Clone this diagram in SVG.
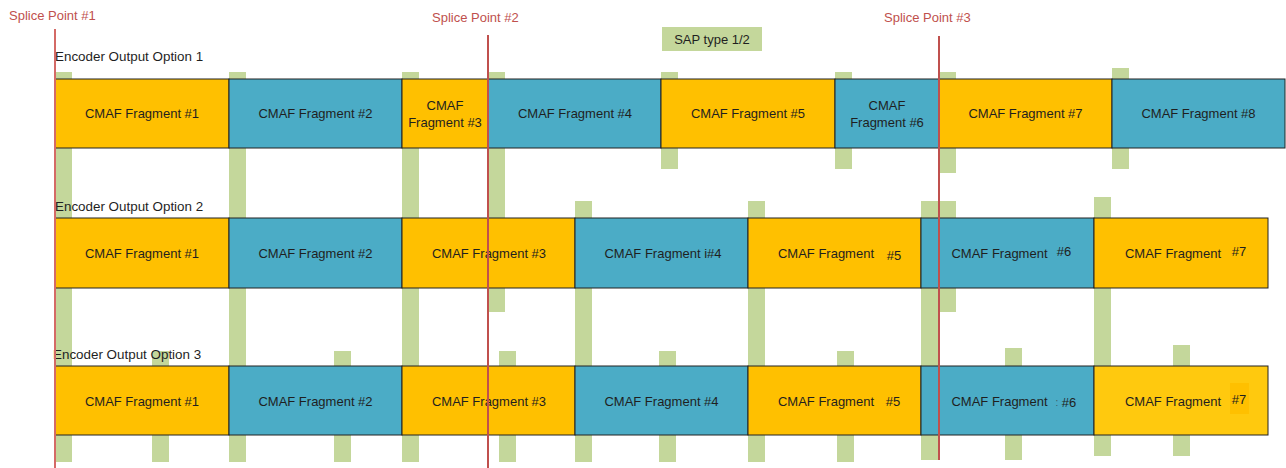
<svg xmlns="http://www.w3.org/2000/svg" width="1286" height="468" viewBox="0 0 1286 468">
<style>
text{font-family:"Liberation Sans",Arial,sans-serif;fill:#1f1f1f}
.t{font-size:13px;text-anchor:middle}
.l{font-size:13.4px}
.sp{font-size:13px;fill:#c0504d}
.bar{fill:#c4d79b}
.o{fill:#ffc000;stroke:#222;stroke-width:1}
.b{fill:#4bacc6;stroke:#222;stroke-width:1}
.splice{stroke:#c0504d;stroke-width:2}
</style>
<rect width="1286" height="468" fill="#fff"/>
<g id="sap-bars">
<rect class="bar" x="55" y="72" width="17" height="390"/>
<rect class="bar" x="229" y="72" width="17" height="390"/>
<rect class="bar" x="402" y="72" width="17" height="390"/>
<rect class="bar" x="488" y="72" width="17" height="240"/>
<rect class="bar" x="661" y="72" width="17" height="97"/>
<rect class="bar" x="835" y="72" width="17" height="97"/>
<rect class="bar" x="939" y="72" width="17" height="101"/>
<rect class="bar" x="1112" y="68" width="17" height="101"/>
<rect class="bar" x="575" y="201" width="17" height="261"/>
<rect class="bar" x="748" y="201" width="17" height="261"/>
<rect class="bar" x="921" y="201" width="17" height="259"/>
<rect class="bar" x="938" y="201" width="18" height="111"/>
<rect class="bar" x="1094" y="197" width="17" height="259"/>
<rect class="bar" x="152" y="351" width="17" height="111"/>
<rect class="bar" x="334" y="351" width="17" height="111"/>
<rect class="bar" x="499" y="351" width="17" height="111"/>
<rect class="bar" x="659" y="351" width="17" height="111"/>
<rect class="bar" x="837" y="351" width="17" height="111"/>
<rect class="bar" x="1005" y="348" width="17" height="112"/>
<rect class="bar" x="1173" y="345" width="17" height="111"/>
</g>
<g id="sap-legend">
<rect class="bar" x="662" y="27" width="100" height="24"/>
<text class="t" x="712" y="43.5">SAP type 1/2</text>
</g>
<g id="labels">
<text class="l" x="55" y="61">Encoder Output Option 1</text>
<text class="l" x="55" y="211">Encoder Output Option 2</text>
<text class="l" x="53" y="359">Encoder Output Option 3</text>
</g>
<g id="row1">
<g id="r1f1"><rect class="o" x="55" y="79" width="174" height="69"/><text class="t" x="142" y="118">CMAF Fragment #1</text></g>
<g id="r1f2"><rect class="b" x="229" y="79" width="173" height="69"/><text class="t" x="315.5" y="118">CMAF Fragment #2</text></g>
<g id="r1f3"><rect class="o" x="402" y="79" width="86" height="69"/><text class="t" x="445" y="110">CMAF</text><text class="t" x="445" y="127">Fragment #3</text></g>
<g id="r1f4"><rect class="b" x="488" y="79" width="173" height="69"/><text class="t" x="575" y="118">CMAF Fragment #4</text></g>
<g id="r1f5"><rect class="o" x="661" y="79" width="174" height="69"/><text class="t" x="748" y="118">CMAF Fragment #5</text></g>
<g id="r1f6"><rect class="b" x="835" y="79" width="104" height="69"/><text class="t" x="887" y="110">CMAF</text><text class="t" x="887" y="127">Fragment #6</text></g>
<g id="r1f7"><rect class="o" x="939" y="79" width="173" height="69"/><text class="t" x="1025.5" y="118">CMAF Fragment #7</text></g>
<g id="r1f8"><rect class="b" x="1112" y="79" width="173" height="69"/><text class="t" x="1198.5" y="118">CMAF Fragment #8</text></g>
</g>
<g id="row2">
<g id="r2f1"><rect class="o" x="55" y="218" width="174" height="70"/><text class="t" x="142" y="258">CMAF Fragment #1</text></g>
<g id="r2f2"><rect class="b" x="229" y="218" width="173" height="70"/><text class="t" x="315.5" y="258">CMAF Fragment #2</text></g>
<g id="r2f3"><rect class="o" x="402" y="218" width="173" height="70"/><text class="t" x="489" y="258">CMAF Fragment #3</text></g>
<g id="r2f4"><rect class="b" x="575" y="218" width="173" height="70"/><text class="t" x="663" y="258">CMAF Fragment i#4</text></g>
<g id="r2f5"><rect class="o" x="748" y="218" width="173" height="70"/><text class="t" x="826" y="258">CMAF Fragment</text><text class="t" x="894" y="260">#5</text></g>
<g id="r2f6"><rect class="b" x="921" y="218" width="173" height="70"/><text class="t" x="999.5" y="258">CMAF Fragment</text><text class="t" x="1064" y="256">#6</text></g>
<g id="r2f7"><rect class="o" x="1094" y="218" width="174" height="70"/><text class="t" x="1173" y="258">CMAF Fragment</text><text class="t" x="1239" y="256">#7</text></g>
</g>
<g id="row3">
<g id="r3f1"><rect class="o" x="55" y="366" width="174" height="69"/><text class="t" x="142" y="406">CMAF Fragment #1</text></g>
<g id="r3f2"><rect class="b" x="229" y="366" width="173" height="69"/><text class="t" x="315.5" y="406">CMAF Fragment #2</text></g>
<g id="r3f3"><rect class="o" x="402" y="366" width="173" height="69"/><text class="t" x="489" y="406">CMAF Fragment #3</text></g>
<g id="r3f4"><rect class="b" x="575" y="366" width="173" height="69"/><text class="t" x="661.5" y="406">CMAF Fragment #4</text></g>
<g id="r3f5"><rect class="o" x="748" y="366" width="173" height="69"/><text class="t" x="826" y="406">CMAF Fragment</text><text class="t" x="893" y="406">#5</text></g>
<g id="r3f6"><rect class="b" x="921" y="366" width="173" height="69"/><text class="t" x="999.5" y="406">CMAF Fragment</text><text class="t" x="1057" y="406" style="font-size:10px;fill:#3c5a66">:</text><text class="t" x="1069" y="407">#6</text></g>
<g id="r3f7"><rect x="1094" y="366" width="174" height="69" fill="#ffc90e" stroke="#222" stroke-width="1"/><rect x="1230" y="383" width="19" height="31" fill="#ffc000"/><text class="t" x="1173" y="406">CMAF Fragment</text><text class="t" x="1239" y="404">#7</text></g>
</g>
<g id="connectors">
<line class="splice" x1="55" y1="29" x2="55" y2="468" style="stroke:#d46a66"/>
<line class="splice" x1="488" y1="35" x2="488" y2="468"/>
<line class="splice" x1="939" y1="36" x2="939" y2="460"/>
</g>
<g id="splice-labels">
<text class="sp" x="9" y="20">Splice Point #1</text>
<text class="sp" x="432" y="22">Splice Point #2</text>
<text class="sp" x="884" y="22">Splice Point #3</text>
</g>
</svg>
